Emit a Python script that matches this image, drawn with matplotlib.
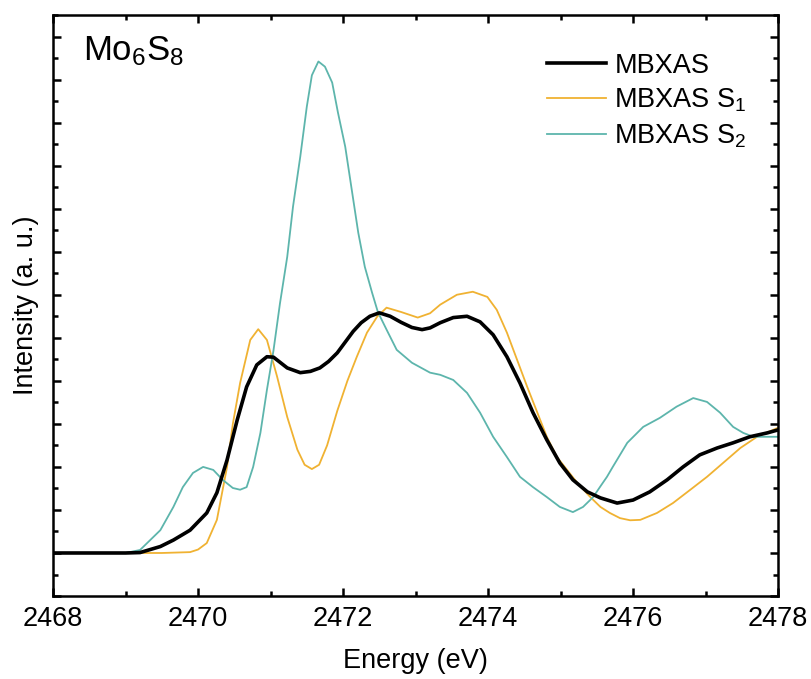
import matplotlib
matplotlib.use('Agg')
import matplotlib.pyplot as plt
from matplotlib.ticker import MultipleLocator

plt.rcParams['font.family'] = ['Liberation Sans', 'DejaVu Sans']
plt.rcParams['mathtext.fontset'] = 'custom'
plt.rcParams['mathtext.rm'] = 'Liberation Sans'
plt.rcParams['mathtext.it'] = 'Liberation Sans:italic'

# MBXAS total spectrum
e_total = [2468.0, 2469.0, 2469.2, 2469.48, 2469.66, 2469.89, 2470.12, 2470.26, 2470.4, 2470.54,
           2470.67, 2470.81, 2470.95, 2471.04, 2471.23, 2471.41, 2471.55, 2471.68, 2471.8, 2471.92,
           2472.03, 2472.14, 2472.25, 2472.37, 2472.5, 2472.65, 2472.8, 2472.95, 2473.09, 2473.2,
           2473.34, 2473.52, 2473.71, 2473.89, 2474.07, 2474.26, 2474.44, 2474.62, 2474.81, 2474.99,
           2475.17, 2475.37, 2475.55, 2475.78, 2476.0, 2476.23, 2476.47, 2476.69, 2476.92, 2477.16,
           2477.38, 2477.61, 2477.85, 2478.0]
i_total = [0.0, 0.0, 0.01, 0.15, 0.3, 0.53, 0.93, 1.4, 2.16, 3.09,
           3.86, 4.37, 4.56, 4.55, 4.3, 4.19, 4.22, 4.3, 4.45, 4.65,
           4.9, 5.15, 5.35, 5.5, 5.58, 5.5, 5.36, 5.24, 5.19, 5.23,
           5.35, 5.47, 5.5, 5.37, 5.07, 4.56, 3.95, 3.26, 2.63, 2.09,
           1.7, 1.42, 1.28, 1.16, 1.23, 1.42, 1.7, 2.0, 2.28, 2.44,
           2.56, 2.7, 2.79, 2.86]

# S1 site
e_s1 = [2468.0, 2469.5, 2469.89, 2470.0, 2470.12, 2470.26, 2470.4, 2470.48, 2470.58, 2470.72,
        2470.83, 2470.95, 2471.09, 2471.23, 2471.37, 2471.47, 2471.57, 2471.67, 2471.78, 2471.92,
        2472.06, 2472.19, 2472.33, 2472.47, 2472.6, 2472.8, 2473.03, 2473.2, 2473.34, 2473.57,
        2473.79, 2473.99, 2474.12, 2474.26, 2474.4, 2474.54, 2474.68, 2474.81, 2474.95, 2475.09,
        2475.23, 2475.41, 2475.55, 2475.68, 2475.82, 2475.96, 2476.1, 2476.33, 2476.55, 2476.79,
        2477.02, 2477.24, 2477.48, 2477.71, 2478.0]
i_s1 = [0.0, 0.0, 0.02, 0.08, 0.23, 0.77, 2.0, 3.0, 3.95, 4.95,
        5.2, 4.95, 4.1, 3.16, 2.4, 2.05, 1.95, 2.05, 2.5, 3.3,
        4.0, 4.56, 5.12, 5.49, 5.7, 5.6, 5.47, 5.57, 5.77, 6.0,
        6.07, 5.95, 5.65, 5.12, 4.49, 3.86, 3.26, 2.7, 2.23, 1.93,
        1.63, 1.3, 1.07, 0.93, 0.81, 0.76, 0.77, 0.93, 1.16, 1.47,
        1.77, 2.09, 2.44, 2.7, 2.91]

# S2 site
e_s2 = [2468.0, 2469.0, 2469.2, 2469.34, 2469.48, 2469.66, 2469.79, 2469.93, 2470.07, 2470.21,
        2470.34, 2470.48, 2470.58, 2470.67, 2470.76, 2470.86, 2470.95, 2471.04, 2471.13, 2471.23,
        2471.31, 2471.41, 2471.5, 2471.57, 2471.66, 2471.75, 2471.85, 2471.93, 2472.03, 2472.12,
        2472.21, 2472.3, 2472.4, 2472.48, 2472.6, 2472.74, 2472.95, 2473.2, 2473.34, 2473.52,
        2473.71, 2473.89, 2474.07, 2474.26, 2474.44, 2474.62, 2474.81, 2474.99, 2475.17, 2475.31,
        2475.45, 2475.55, 2475.64, 2475.72, 2475.92, 2476.14, 2476.37, 2476.6, 2476.83, 2477.02,
        2477.2, 2477.38, 2477.52, 2477.66, 2477.85, 2478.0]
i_s2 = [0.0, 0.0, 0.07, 0.3, 0.53, 1.07, 1.53, 1.86, 2.0, 1.93,
        1.7, 1.51, 1.47, 1.53, 2.0, 2.79, 3.79, 4.7, 5.8, 6.88,
        8.05, 9.21, 10.37, 11.1, 11.42, 11.3, 10.93, 10.23, 9.44, 8.44,
        7.44, 6.65, 6.05, 5.6, 5.19, 4.72, 4.42, 4.19, 4.14, 4.02,
        3.72, 3.26, 2.7, 2.23, 1.77, 1.53, 1.3, 1.07, 0.95, 1.07,
        1.3, 1.55, 1.77, 2.0, 2.56, 2.93, 3.14, 3.4, 3.6, 3.51,
        3.26, 2.93, 2.79, 2.7, 2.7, 2.7]

fig = plt.figure(figsize=(8.11, 6.79), dpi=100)
ax = fig.add_axes([0.0654, 0.1222, 0.894, 0.8557])

ax.plot(e_total, i_total, color='black', lw=2.6, label='MBXAS', zorder=3,
        solid_joinstyle='round')
ax.plot(e_s1, i_s1, color='#F0B232', lw=1.3, label=r'MBXAS S$_1$', zorder=2,
        solid_joinstyle='round')
ax.plot(e_s2, i_s2, color='#5DB5AC', lw=1.3, label=r'MBXAS S$_2$', zorder=2,
        solid_joinstyle='round')

ax.set_xlim(2468, 2478)
ax.set_ylim(-1.0, 12.5)
ax.xaxis.set_major_locator(MultipleLocator(2))
ax.xaxis.set_minor_locator(MultipleLocator(1))
ax.yaxis.set_major_locator(MultipleLocator(1))
ax.yaxis.set_minor_locator(MultipleLocator(0.5))
ax.tick_params(which='both', direction='in', top=True, right=True, width=1.8,
               labelleft=False, labelsize=19.5, pad=7)
ax.tick_params(which='major', length=6)
ax.tick_params(which='minor', length=3.5)
for s in ax.spines.values():
    s.set_linewidth(1.8)

ax.set_xlabel('Energy (eV)', fontsize=19.5, labelpad=12)
ax.set_ylabel('Intensity (a. u.)', fontsize=19.5, labelpad=10)

ax.text(0.041, 0.966, r'Mo$_6$S$_8$', transform=ax.transAxes, fontsize=25,
        ha='left', va='top')

ax.legend(loc='upper left', bbox_to_anchor=(0.681, 0.935), frameon=False,
          fontsize=19.5, handlelength=2.2, handletextpad=0.3, labelspacing=0.3,
          borderpad=0, borderaxespad=0)

fig.savefig('out.png', dpi=100)
